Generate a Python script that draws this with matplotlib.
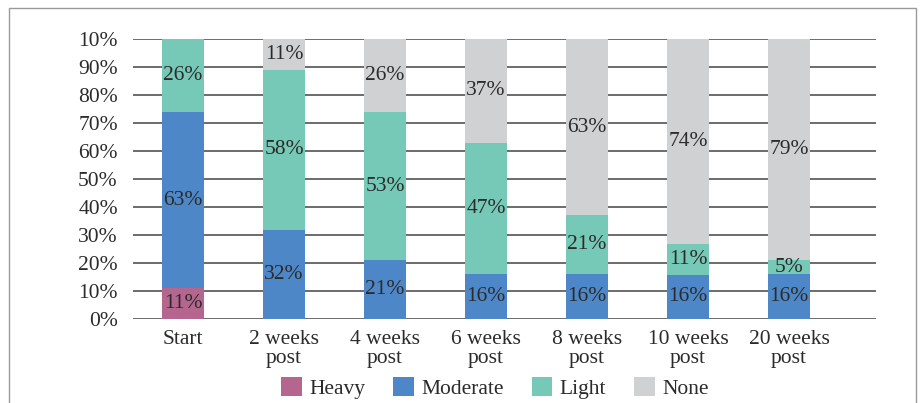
import numpy as np
import matplotlib
matplotlib.use('Agg')
import matplotlib.pyplot as plt
from matplotlib.lines import Line2D
from matplotlib.patches import Patch

categories = ['Start', '2 weeks\npost', '4 weeks\npost', '6 weeks\npost',
              '8 weeks\npost', '10 weeks\npost', '20 weeks\npost']
heavy = [11, 0, 0, 0, 0, 0, 0]
moderate = [63, 32, 21, 16, 16, 16, 16]
light = [26, 58, 53, 47, 21, 11, 5]
none = [0, 11, 26, 37, 63, 74, 79]
series_names = ['Heavy', 'Moderate', 'Light', 'None']
y_labels = ['0%', '10%', '20%', '30%', '40%', '50%', '60%', '70%', '80%', '90%', '10%']

colors = ['#b5668f', '#4d87c7', '#76c8b7', '#d0d1d3']
text_color = '#2b2b2b'

plt.rcParams['font.family'] = ['Liberation Serif', 'DejaVu Serif']

series = np.array([heavy, moderate, light, none], dtype=float)
# 100% stacked: normalise each column
shares = series / series.sum(axis=0) * 100

fig = plt.figure(figsize=(9.22, 4.03), dpi=100)
ax = fig.add_axes([0.1443, 0.2084, 0.8057, 0.6948])

x = np.arange(len(categories))
bottom = np.zeros(len(categories))
for i, name in enumerate(series_names):
    ax.bar(x, shares[i], 0.41, bottom=bottom, color=colors[i], zorder=3, label=name)
    for j in range(len(categories)):
        if series[i, j] > 0:
            ax.text(x[j], bottom[j] + shares[i, j] / 2, '%d%%' % series[i, j],
                    ha='center', va='center', fontsize=15.5, color=text_color, zorder=4)
    bottom += shares[i]

ax.set_xlim(-0.495, 6.86)
ax.set_ylim(0, 100)
ax.set_yticks(np.arange(0, 101, 10))
ax.set_yticklabels(y_labels)
ax.set_xticks(x)
ax.set_xticklabels(categories, linespacing=1.0)
ax.tick_params(axis='both', length=0, labelsize=15.5, colors=text_color)
ax.tick_params(axis='y', pad=11)
ax.tick_params(axis='x', pad=8)
ax.yaxis.grid(True, color='#606060', linewidth=1.3, zorder=0)
for s in ax.spines.values():
    s.set_visible(False)

handles = [Patch(facecolor=c, edgecolor='none') for c in colors]
fig.legend(handles, series_names, loc='center', bbox_to_anchor=(0.537, 0.037), ncol=4,
           frameon=False, fontsize=15.5, handlelength=0.95, handleheight=0.95,
           handletextpad=0.35, columnspacing=1.3, labelcolor=text_color)

# thin frame around the figure
fig.add_artist(Line2D([0.0098, 0.0098, 0.9935, 0.9935], [0.0, 0.980, 0.980, 0.0],
                      transform=fig.transFigure, color='#9a9a9a', linewidth=1.0))

fig.savefig('out.png', dpi=100)
